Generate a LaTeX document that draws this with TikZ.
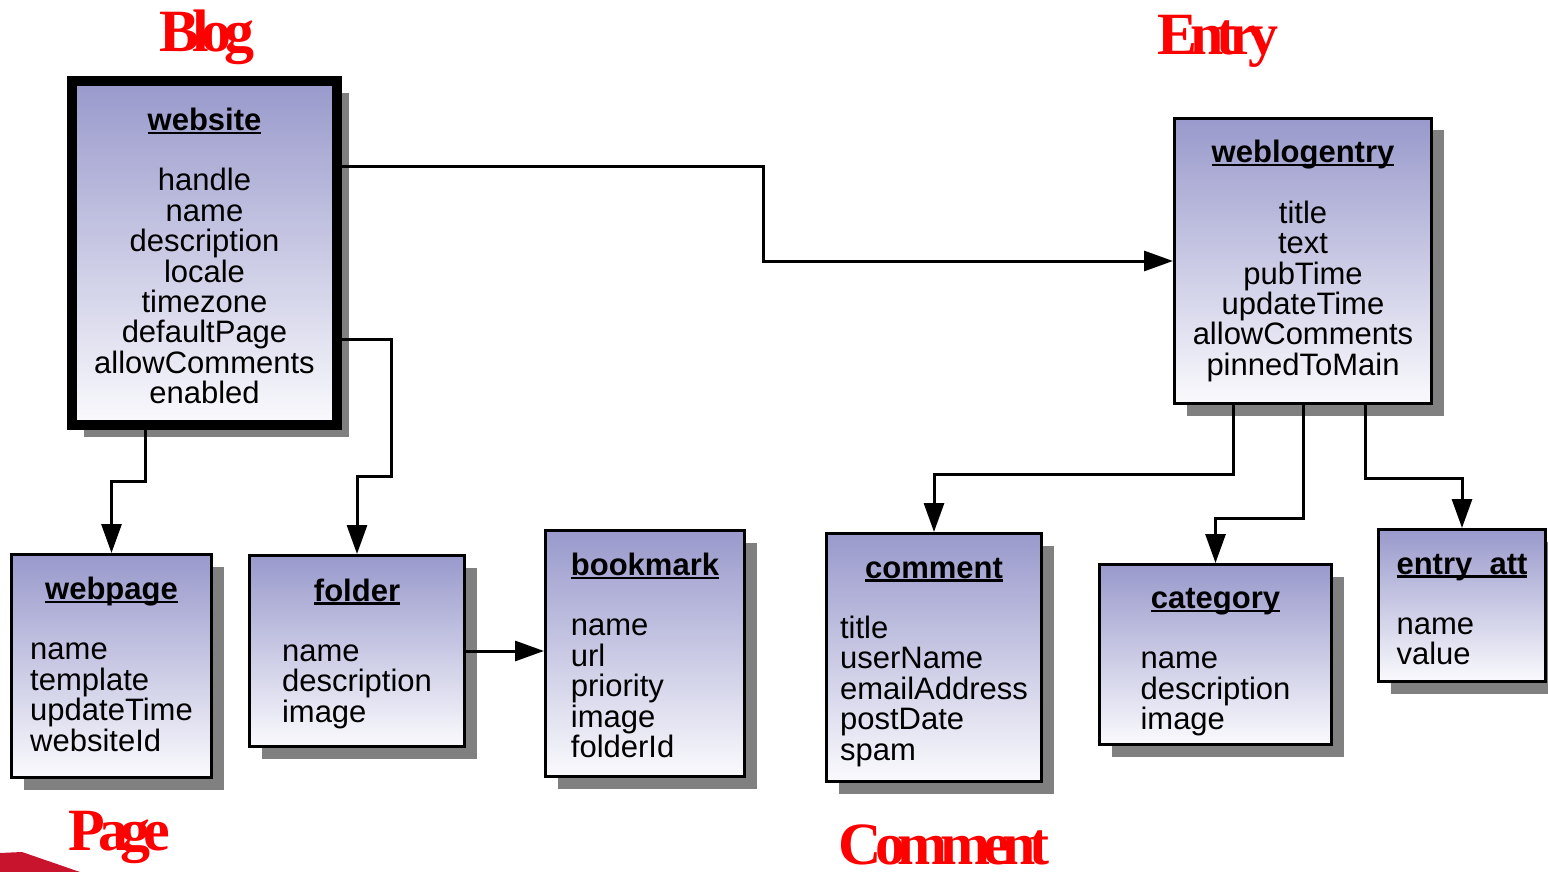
\documentclass[tikz,border=0pt]{standalone}
\usepackage{fontspec}
\usepackage{array}
\setmainfont{Liberation Sans}
\newfontfamily\groupfont[LetterSpace=-12]{Liberation Serif}
\usetikzlibrary{arrows.meta,shadows,positioning}
\definecolor{tabtop}{RGB}{153,153,204}
\definecolor{tabbottom}{RGB}{250,250,253}
\definecolor{shadowgray}{RGB}{128,128,128}
\definecolor{groupred}{RGB}{255,0,0}
\definecolor{swooshred}{RGB}{200,20,45}
\newsavebox\tabnamebox
\newcommand{\tabname}[1]{\sbox\tabnamebox{\bfseries #1}\rlap{\rule[-3.5pt]{\wd\tabnamebox}{2.2pt}}\usebox\tabnamebox}
\newcommand{\tabhead}[1]{\multicolumn{1}{@{}c@{}}{\rule{0pt}{23pt}\tabname{#1}}\\[37.4pt]}
\newcommand{\tabbody}[2][l]{{\renewcommand\arraystretch{0}%
  \begin{tabular}[t]{@{}>{\rule[-7.4pt]{0pt}{30.4pt}}#1@{}}#2\end{tabular}}}

\begin{document}
\begin{tikzpicture}[x=1pt, y=-1pt,
  entity/.style={draw, line width=3pt, top color=tabtop, bottom color=tabbottom,
    drop shadow={shadow xshift=12pt, shadow yshift=-12pt, fill=shadowgray, opacity=1},
    inner sep=0pt},
  fields/.style={inner sep=0pt, outer sep=0pt, font=\fontsize{31}{30.4}\selectfont},
  group/.style={text=groupred, font=\groupfont\bfseries\fontsize{60}{60}\selectfont, anchor=base, inner sep=0pt},
  link/.style={line width=3pt, -{Triangle[length=29pt, width=20pt]}}]
	\useasboundingbox (0,0) rectangle (1548,872);
	\clip (0,0) rectangle (1548,872);
	\node[group] (blogname) at (207,52) {Blog};
	\node[group] (entryname) at (1218,55) {Entry};
	\node[group] (pagename) at (119.5,850) {Page};
	\node[group] (commentname) at (944,864) {Comment};
	\fill[swooshred] (0,853) -- (22,852) -- (80,872) -- (0,872) -- cycle;
	\node[entity, line width=10pt, minimum width=265pt, minimum height=344pt] (website) at (204.5,253) {};
	\node[fields, below=31.5pt of website.north] (websitetext)
		{\tabbody[c]{\tabhead{website}handle\\name\\description\\locale\\timezone\\defaultPage\\allowComments\\enabled}};
	\node[entity, minimum width=257pt, minimum height=285pt] (weblogentry) at (1303,261) {};
	\node[fields, below=23pt of weblogentry.north] (weblogentrytext)
		{\tabbody[c]{\tabhead{weblogentry}title\\text\\pubTime\\updateTime\\allowComments\\pinnedToMain}};
	\node[entity, minimum width=200pt, minimum height=223pt] (webpage) at (111.5,666) {};
	\node[fields, below=23.5pt of webpage.north] (webpagetext)
		{\tabbody{\tabhead{webpage}name\\template\\updateTime\\websiteId}};
	\node[entity, minimum width=215pt, minimum height=191pt] (folder) at (357,651) {};
	\node[fields, below=24pt of folder.north] (foldertext)
		{\tabbody{\tabhead{folder}name\\description\\image}};
	\node[entity, minimum width=199pt, minimum height=246pt] (bookmark) at (645,653.5) {};
	\node[fields, below=23.5pt of bookmark.north] (bookmarktext)
		{\tabbody{\tabhead{bookmark}name\\url\\priority\\image\\folderId}};
	\node[entity, minimum width=215pt, minimum height=248pt] (comment) at (934,657.5) {};
	\node[fields, below=23pt of comment.north] (commenttext)
		{\tabbody{\tabhead{comment}title\\userName\\emailAddress\\postDate\\spam}};
	\node[entity, minimum width=232pt, minimum height=180pt] (category) at (1215.5,654.5) {};
	\node[fields, below=22.5pt of category.north] (categorytext)
		{\tabbody{\tabhead{category}name\\description\\image}};
	\node[entity, minimum width=167pt, minimum height=152pt] (entryatt) at (1462,605.5) {};
	\node[fields, below=23pt of entryatt.north] (entryatttext)
		{\tabbody{\tabhead{entry\_att}name\\value}};
	\draw[link] ([yshift=86pt]website.east) -- (763,167) |- (weblogentry.west);
	\draw[link] ([xshift=-59.5pt]website.south) -- ++(0,51) -| (webpage.north);
	\draw[link] ([yshift=-86pt]website.east) -| (391,476) -| (folder.north);
	\draw[link] (folder.east) -- (folder.east -| bookmark.west);
	\draw[link] ([xshift=-70pt]weblogentry.south) -- ++(0,69) -| (comment.north);
	\draw[link] (weblogentry.south) -- ++(0,113) -| (category.north);
	\draw[link] ([xshift=62pt]weblogentry.south) -- ++(0,73) -| (entryatt.north);
\end{tikzpicture}
\end{document}
